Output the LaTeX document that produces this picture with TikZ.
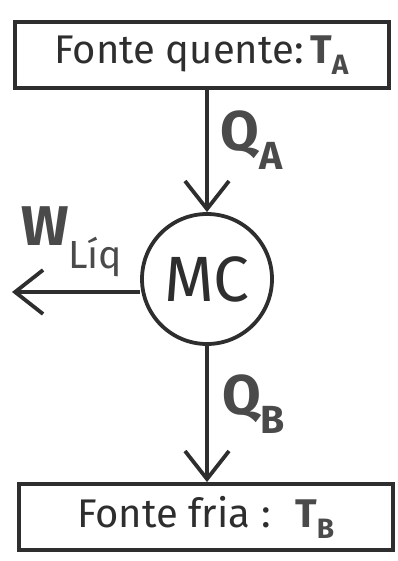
\documentclass[tikz,border=0pt]{standalone}
\usepackage{fontspec}
\setmainfont{Fira Sans}
\usetikzlibrary{arrows.meta}
\definecolor{ink}{HTML}{2E2E2E}
\definecolor{inkb}{HTML}{4A4A4A}
\begin{document}
\begin{tikzpicture}[x=1pt,y=-1pt,
  line width=3.8pt, draw=ink, text=ink,
  sourcebox/.style={draw, minimum width=374pt, minimum height=66pt, inner sep=0pt, font=\fontsize{40}{44}\selectfont},
  engine/.style={draw, circle, minimum size=130pt, inner sep=0pt, font=\fontsize{64}{68}\selectfont},
  flow/.style={draw, -{Straight Barb[length=28pt,width=44pt,line width=3.8pt]}},
  lab/.style={font=\fontsize{56}{60}\selectfont\bfseries, inner sep=0pt}
]
\useasboundingbox (0,0) rectangle (397,561);
\node[sourcebox] (top) at (202,55) {Fonte quente:\,\textcolor{inkb}{\textbf{T}\textsubscript{\textbf{A}}}};
\node[engine] (mc) at (207,279) {MC};
\node[sourcebox] (bot) at (206,517) {Fonte fria : \ \textcolor{inkb}{\textbf{T}\textsubscript{\textbf{B}}}};
\coordinate (wend) at (12,292);
\draw[flow] (top.south -| mc.north) -- (mc.north);
\draw[flow] (mc.south) -- (bot.north -| mc.south);
\draw[flow] (mc.west |- wend) -- (wend);
\node[lab, text=inkb] (qa) at (252,140) {Q\textsubscript{A}};
\node[lab, text=inkb] (qb) at (254,404) {Q\textsubscript{B}};
\node[lab, text=inkb] (w) at (72,242) {W\textsubscript{\mdseries Líq}};
\end{tikzpicture}
\end{document}
